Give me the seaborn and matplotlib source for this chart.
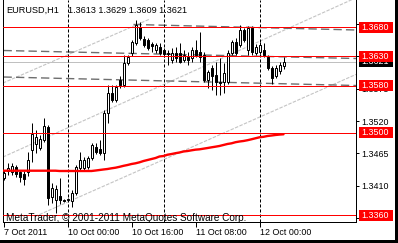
import numpy as np
import matplotlib
matplotlib.use("Agg")
import matplotlib.pyplot as plt
import seaborn as sns
from matplotlib.patches import Rectangle
from matplotlib.transforms import blended_transform_factory

# ---------------- data ----------------
symbol = "EURUSD,H1"
opens = [1.3423, 1.3435, 1.3433, 1.3442, 1.3433, 1.3430, 1.3433, 1.3471, 1.3481, 1.3474,
         1.3488, 1.3510, 1.3391, 1.3386, 1.3392, 1.3386, 1.3386, 1.3384, 1.3397, 1.3440,
         1.3440, 1.3442, 1.3457, 1.3476, 1.3472, 1.3466, 1.3534, 1.3568, 1.3556, 1.3590,
         1.3581, 1.3619, 1.3636, 1.3653, 1.3680, 1.3660, 1.3658, 1.3651, 1.3641, 1.3646,
         1.3641, 1.3634, 1.3624, 1.3636, 1.3636, 1.3624, 1.3629, 1.3627, 1.3641, 1.3637,
         1.3632, 1.3590, 1.3610, 1.3598, 1.3586, 1.3586, 1.3586, 1.3636, 1.3654, 1.3649,
         1.3675, 1.3641, 1.3678, 1.3636, 1.3637, 1.3641, 1.3629, 1.3610, 1.3597, 1.3605,
         1.3613]
highs = [1.3437, 1.3449, 1.3449, 1.3445, 1.3437, 1.3435, 1.3467, 1.3517, 1.3505, 1.3496,
         1.3525, 1.3513, 1.3415, 1.3411, 1.3423, 1.3387, 1.3389, 1.3403, 1.3445, 1.3467,
         1.3459, 1.3460, 1.3483, 1.3483, 1.3488, 1.3539, 1.3581, 1.3581, 1.3581, 1.3597,
         1.3632, 1.3632, 1.3658, 1.3692, 1.3689, 1.3665, 1.3661, 1.3654, 1.3653, 1.3653,
         1.3644, 1.3641, 1.3644, 1.3646, 1.3653, 1.3641, 1.3637, 1.3646, 1.3658, 1.3671,
         1.3637, 1.3607, 1.3615, 1.3620, 1.3627, 1.3619, 1.3641, 1.3658, 1.3661, 1.3683,
         1.3678, 1.3682, 1.3682, 1.3651, 1.3654, 1.3653, 1.3632, 1.3614, 1.3615, 1.3620,
         1.3629]
lows = [1.3420, 1.3428, 1.3428, 1.3425, 1.3416, 1.3411, 1.3426, 1.3450, 1.3466, 1.3471,
        1.3484, 1.3377, 1.3380, 1.3363, 1.3379, 1.3382, 1.3384, 1.3374, 1.3394, 1.3437,
        1.3437, 1.3438, 1.3454, 1.3464, 1.3462, 1.3454, 1.3517, 1.3552, 1.3552, 1.3576,
        1.3578, 1.3615, 1.3631, 1.3649, 1.3658, 1.3646, 1.3641, 1.3637, 1.3636, 1.3632,
        1.3629, 1.3615, 1.3619, 1.3620, 1.3619, 1.3620, 1.3615, 1.3620, 1.3629, 1.3620,
        1.3586, 1.3576, 1.3573, 1.3564, 1.3564, 1.3568, 1.3583, 1.3632, 1.3632, 1.3646,
        1.3654, 1.3632, 1.3632, 1.3632, 1.3634, 1.3629, 1.3607, 1.3583, 1.3593, 1.3600,
        1.3609]
closes = [1.3432, 1.3440, 1.3443, 1.3430, 1.3425, 1.3421, 1.3454, 1.3498, 1.3493, 1.3489,
          1.3512, 1.3389, 1.3406, 1.3404, 1.3386, 1.3384, 1.3387, 1.3397, 1.3442, 1.3454,
          1.3454, 1.3457, 1.3479, 1.3467, 1.3466, 1.3534, 1.3568, 1.3556, 1.3578, 1.3581,
          1.3619, 1.3629, 1.3654, 1.3683, 1.3661, 1.3649, 1.3644, 1.3648, 1.3649, 1.3636,
          1.3634, 1.3636, 1.3636, 1.3627, 1.3620, 1.3632, 1.3624, 1.3641, 1.3632, 1.3629,
          1.3590, 1.3603, 1.3597, 1.3586, 1.3585, 1.3602, 1.3636, 1.3654, 1.3636, 1.3675,
          1.3658, 1.3678, 1.3637, 1.3646, 1.3649, 1.3632, 1.3610, 1.3593, 1.3610, 1.3615,
          1.3621]
moving_average = [1.34354, 1.34354, 1.34354, 1.34354, 1.34354, 1.34354, 1.34354, 1.34354,
                  1.34354, 1.34354, 1.34354, 1.34354, 1.34354, 1.34354, 1.34349, 1.34349,
                  1.34349, 1.34349, 1.34349, 1.34349, 1.34349, 1.34349, 1.34349, 1.34357,
                  1.34366, 1.34375, 1.34383, 1.34395, 1.34405, 1.34420, 1.34437, 1.34451,
                  1.34468, 1.34480, 1.34497, 1.34519, 1.34536, 1.34553, 1.34570, 1.34596,
                  1.34604, 1.34626, 1.34638, 1.34652, 1.34664, 1.34681, 1.34689, 1.34701,
                  1.34712, 1.34718, 1.34729, 1.34740, 1.34752, 1.34763, 1.34775, 1.34792,
                  1.34809, 1.34820, 1.34839, 1.34851, 1.34860, 1.34873, 1.34889, 1.34906,
                  1.34923, 1.34931, 1.34945, 1.34953, 1.34962, 1.34969, 1.34974]

level_lines = [1.3680, 1.3630, 1.3580, 1.3500, 1.3360]
bid_price = 1.3621
price_ticks = [1.3355, 1.3410, 1.3465, 1.3520, 1.3575, 1.3630, 1.3685]
time_label_bars = [0, 16, 32, 48, 64]
time_labels = ["7 Oct 2011", "10 Oct 00:00", "10 Oct 16:00", "11 Oct 08:00", "12 Oct 00:00"]
day_separator_bars = [16, 40, 64]

# dark dashed channel lines (start bar, start price, end bar, end price)
channel_start_bars = [0.0, 32.5, 0.0]
channel_start_prices = [1.36400, 1.36843, 1.35949]
channel_end_bars = [88.125, 88.125, 88.125]
channel_end_prices = [1.36264, 1.36749, 1.35804]

# light grey rising lines
trend_start_bars = [-0.125, -0.125, 7.875]
trend_start_prices = [1.35847, 1.34587, 1.33574]
trend_end_bars = [36.6, 88.125, 88.125]
trend_end_prices = [1.36936, 1.37297, 1.35993]

copyright_text = "MetaTrader, \u00a9 2001-2011 MetaQuotes Software Corp."

# ---------------- style ----------------
sns.set_style("white")
plt.rcParams["font.family"] = ["Liberation Sans", "DejaVu Sans"]
plt.rcParams["lines.scale_dashes"] = False

W, H = 398, 243
fig = plt.figure(figsize=(W / 100, H / 100), dpi=100)
fig.patch.set_facecolor("white")
ax = fig.add_axes([3 / W, 21 / H, 353 / W, 222 / H])
ax.set_facecolor("white")
ax.set_xlim(-0.125, 88.125)
ax.set_ylim(1.334809, 1.372596)

LW = 0.72  # one pixel

bars = np.arange(len(opens))
o = np.array(opens); c = np.array(closes); h = np.array(highs); l = np.array(lows)

# bid line
ax.axhline(bid_price, color="#c0c0c0", lw=LW, zorder=1)

# light grey trend lines
for x0, y0, x1, y1 in zip(trend_start_bars, trend_start_prices, trend_end_bars, trend_end_prices):
    ax.plot([x0, x1], [y0, y1], color="#c4c4c4", lw=0.8, linestyle=(0, (2.5, 1.0)), zorder=1.5)

# dark dashed channel
for x0, y0, x1, y1 in zip(channel_start_bars, channel_start_prices, channel_end_bars, channel_end_prices):
    ax.plot([x0, x1], [y0, y1], color="#6e6e6e", lw=1.0, linestyle=(0, (6, 3)), zorder=1.8)

# day separators
for b in day_separator_bars:
    ax.axvline(b, color="black", lw=LW, linestyle=(0, (2.2, 1.4)), zorder=2)

# candles
ax.vlines(bars, l, h, color="black", lw=LW, zorder=3)
body_bottom = np.minimum(o, c)
body_height = np.abs(c - o)
body_colors = ["white" if cc >= oo else "black" for oo, cc in zip(o, c)]
ax.bar(bars, body_height, bottom=body_bottom, width=0.5, color=body_colors,
       edgecolor="black", linewidth=LW, zorder=3.5)

# red horizontal levels
for lev in level_lines:
    ax.axhline(lev, color="#ff0000", lw=LW, zorder=5)

# moving average
sns.lineplot(x=bars, y=moving_average, color="#ff0000", linewidth=1.7, ax=ax, zorder=6)

# axes frame
for s in ["left", "bottom", "right"]:
    ax.spines[s].set_visible(True)
    ax.spines[s].set_color("black")
    ax.spines[s].set_linewidth(LW)
ax.spines["top"].set_visible(False)

ax.yaxis.tick_right()
ax.set_yticks(price_ticks)
ax.set_yticklabels([f"{v:.4f}" for v in price_ticks])
ax.tick_params(axis="y", which="both", left=False, labelleft=False, right=True, labelright=True,
               direction="out", length=2.2, width=LW, pad=1.9, labelsize=6.4, colors="black")
ax.set_xticks(time_label_bars)
ax.set_xticklabels(time_labels, ha="left")
ax.tick_params(axis="x", bottom=True, direction="out", length=3.5, width=LW, pad=1.0,
               labelsize=6.4, colors="black")
ax.set_xlabel(""); ax.set_ylabel("")

# price boxes on the right scale
bt = blended_transform_factory(ax.transAxes, ax.transData)
box_x = (359 - 3) / 353
box_w = 34 / 353
box_h = 11 * (1.372596 - 1.334809) / 222
text_x = (361.5 - 3) / 353
ax.add_patch(Rectangle((box_x, bid_price - box_h / 2), box_w, box_h, transform=bt,
                       facecolor="black", edgecolor="none", clip_on=False, zorder=9))
ax.text(text_x, bid_price, f"{bid_price:.4f}", transform=bt, color="white", fontsize=6.4,
        va="center", ha="left", clip_on=False, zorder=9.5)
for lev in level_lines:
    ax.add_patch(Rectangle((box_x, lev - box_h / 2), box_w, box_h, transform=bt,
                           facecolor="#ff0000", edgecolor="none", clip_on=False, zorder=10))
    ax.text(text_x, lev, f"{lev:.4f}", transform=bt, color="white", fontsize=6.4,
            va="center", ha="left", clip_on=False, zorder=11)

# header and copyright
fig.text(6.7 / W, 1 - 10.3 / H, symbol, fontsize=6.6, va="center", ha="left", color="black")
fig.text(68 / W, 1 - 10.3 / H,
         " ".join(f"{v:.4f}" for v in [opens[-1], highs[-1], lows[-1], closes[-1]]),
         fontsize=6.6, va="center", ha="left", color="black")
fig.text(5.5 / W, 1 - 221.3 / H, copyright_text, fontsize=7.2, va="baseline", ha="left",
         color="black")

# black outer border strips
fig.add_artist(Rectangle((395 / W, 0), 3 / W, 1, transform=fig.transFigure,
                         facecolor="black", edgecolor="none", zorder=20))
fig.add_artist(Rectangle((0, 0), 1, 3 / H, transform=fig.transFigure,
                         facecolor="black", edgecolor="none", zorder=20))

fig.savefig("out.png", dpi=100)
